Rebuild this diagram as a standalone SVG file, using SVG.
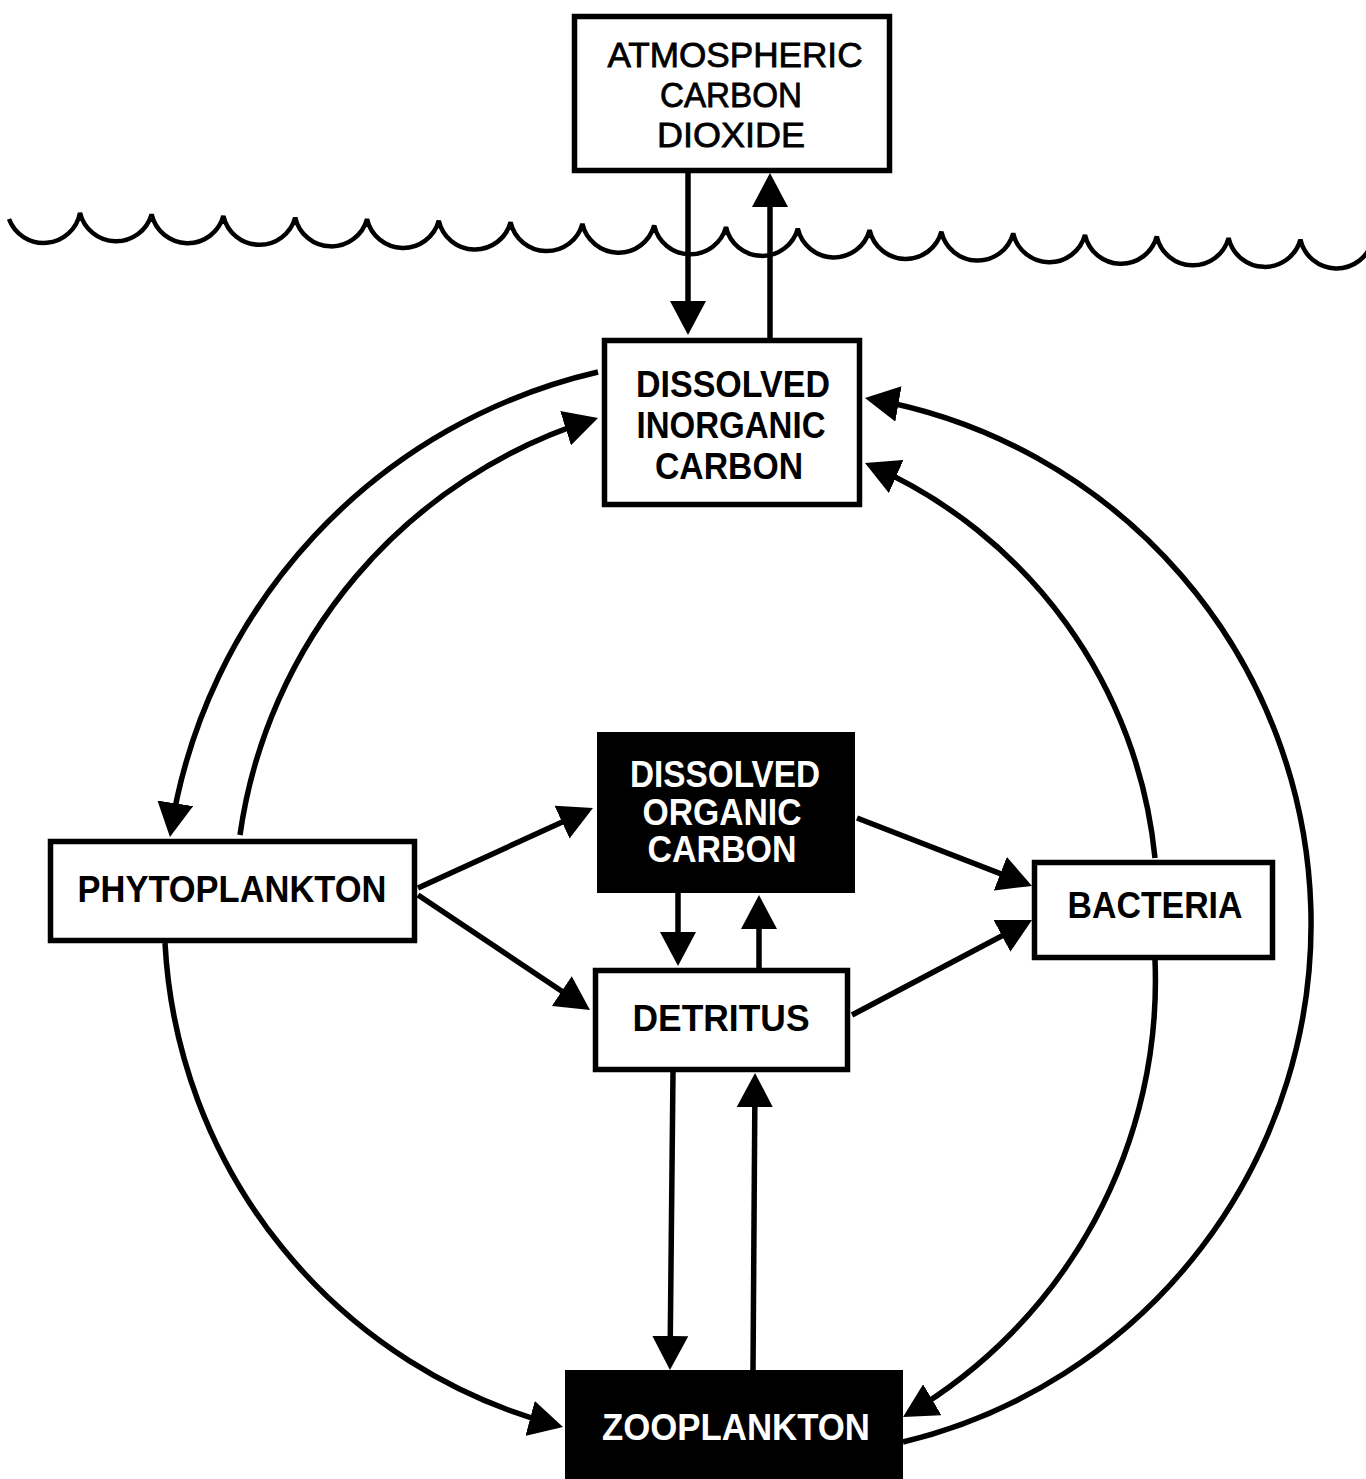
<svg xmlns="http://www.w3.org/2000/svg" width="1366" height="1479" viewBox="0 0 1366 1479">
<style>
  .box { fill: #ffffff; stroke: #000; stroke-width: 5.5; }
  .dark { fill: #000; stroke: #000; stroke-width: 4; }
  .lbl { font-family: "Liberation Sans", Arial, sans-serif; font-weight: bold; font-size: 36px; text-anchor: middle; fill: #000; }
  .lblw { font-family: "Liberation Sans", Arial, sans-serif; font-weight: bold; font-size: 36px; text-anchor: middle; fill: #fff; }
  .lbln { font-family: "Liberation Sans", Arial, sans-serif; font-weight: normal; font-size: 35px; text-anchor: middle; fill: #000; stroke: #000; stroke-width: 0.8; }
  .conn { fill: none; stroke: #000; stroke-width: 5.5; marker-end: url(#ah); }
  .wave { fill: none; stroke: #000; stroke-width: 4.5; }
</style>
<defs>
  <marker id="ah" viewBox="0 0 34 36" refX="28" refY="18" markerWidth="34" markerHeight="36" markerUnits="userSpaceOnUse" orient="auto">
    <path d="M0,0 L34,18 L0,36 z" fill="#000"/>
  </marker>
</defs>
<rect width="1366" height="1479" fill="#fff"/>

<path class="wave" d="M9,219 A37,37 0 0 0 80,212.8 A37,37 0 0 0 151.6,214.3 A37,37 0 0 0 223.4,215.9 A37,37 0 0 0 295.2,217.5 A37,37 0 0 0 367,219.1 A37,37 0 0 0 438.8,220.7 A37,37 0 0 0 510.6,222.2 A37,37 0 0 0 582.4,223.8 A37,37 0 0 0 654.2,225.4 A37,37 0 0 0 726,227 A37,37 0 0 0 797.8,228.6 A37,37 0 0 0 869.6,230.1 A37,37 0 0 0 941.4,231.7 A37,37 0 0 0 1013.2,233.3 A37,37 0 0 0 1085,234.9 A37,37 0 0 0 1156.8,236.4 A37,37 0 0 0 1228.6,238 A37,37 0 0 0 1300.4,239.6 A37,37 0 0 0 1372.2,241.2"/>

<g id="connectors">
  <path class="conn" d="M688,172 L688,329"/>
  <path class="conn" d="M770,338 L770,179"/>
  <path class="conn" d="M598,372 A560,560 0 0 0 170.9,831"/>
  <path class="conn" d="M240,835 A510,510 0 0 1 592.3,419.7"/>
  <path class="conn" d="M903,1442 A533,533 0 0 0 870.9,399"/>
  <path class="conn" d="M1155,858 A480,480 0 0 0 870.5,465.3"/>
  <path class="conn" d="M1155,960 A503,503 0 0 1 908.2,1414"/>
  <path class="conn" d="M165,943 A528,528 0 0 0 557.2,1425.5"/>
  <path class="conn" d="M418,888 L587.5,810.5"/>
  <path class="conn" d="M418,895 L585,1006.7"/>
  <path class="conn" d="M857,818 L1026.4,883.8"/>
  <path class="conn" d="M852,1015 L1026.7,922.8"/>
  <path class="conn" d="M678,893 L678,960"/>
  <path class="conn" d="M759,968 L759,901"/>
  <path class="conn" d="M673,1072 L670,1364"/>
  <path class="conn" d="M753,1372 L755,1079"/>
</g>

<g id="atmospheric-co2">
  <rect class="box" x="574.5" y="16.5" width="315" height="154"/>
  <text class="lbln" x="735" y="67" textLength="255" lengthAdjust="spacingAndGlyphs">ATMOSPHERIC</text>
  <text class="lbln" x="731" y="107" textLength="142" lengthAdjust="spacingAndGlyphs">CARBON</text>
  <text class="lbln" x="731" y="147" textLength="148" lengthAdjust="spacingAndGlyphs">DIOXIDE</text>
</g>

<g id="dissolved-inorganic-carbon">
  <rect class="box" x="604.5" y="340.5" width="255" height="164"/>
  <text class="lbl" x="733" y="397" textLength="194" lengthAdjust="spacingAndGlyphs">DISSOLVED</text>
  <text class="lbl" x="731" y="438" textLength="189" lengthAdjust="spacingAndGlyphs">INORGANIC</text>
  <text class="lbl" x="729" y="479" textLength="148" lengthAdjust="spacingAndGlyphs">CARBON</text>
</g>

<g id="dissolved-organic-carbon">
  <rect class="dark" x="599" y="734" width="254" height="157"/>
  <text class="lblw" x="725" y="787" textLength="190" lengthAdjust="spacingAndGlyphs">DISSOLVED</text>
  <text class="lblw" x="722" y="825" textLength="159" lengthAdjust="spacingAndGlyphs">ORGANIC</text>
  <text class="lblw" x="722" y="862" textLength="149" lengthAdjust="spacingAndGlyphs">CARBON</text>
</g>

<g id="phytoplankton">
  <rect class="box" x="50.5" y="841.5" width="364" height="99"/>
  <text class="lbl" x="232" y="902" textLength="309" lengthAdjust="spacingAndGlyphs">PHYTOPLANKTON</text>
</g>

<g id="detritus">
  <rect class="box" x="595.5" y="970.5" width="252" height="99"/>
  <text class="lbl" x="721" y="1031" textLength="177" lengthAdjust="spacingAndGlyphs">DETRITUS</text>
</g>

<g id="bacteria">
  <rect class="box" x="1034.5" y="862.5" width="238" height="95"/>
  <text class="lbl" x="1155" y="918" textLength="175" lengthAdjust="spacingAndGlyphs">BACTERIA</text>
</g>

<g id="zooplankton">
  <rect class="dark" x="567" y="1372" width="334" height="110"/>
  <text class="lblw" x="736" y="1440" textLength="268" lengthAdjust="spacingAndGlyphs">ZOOPLANKTON</text>
</g>
</svg>
